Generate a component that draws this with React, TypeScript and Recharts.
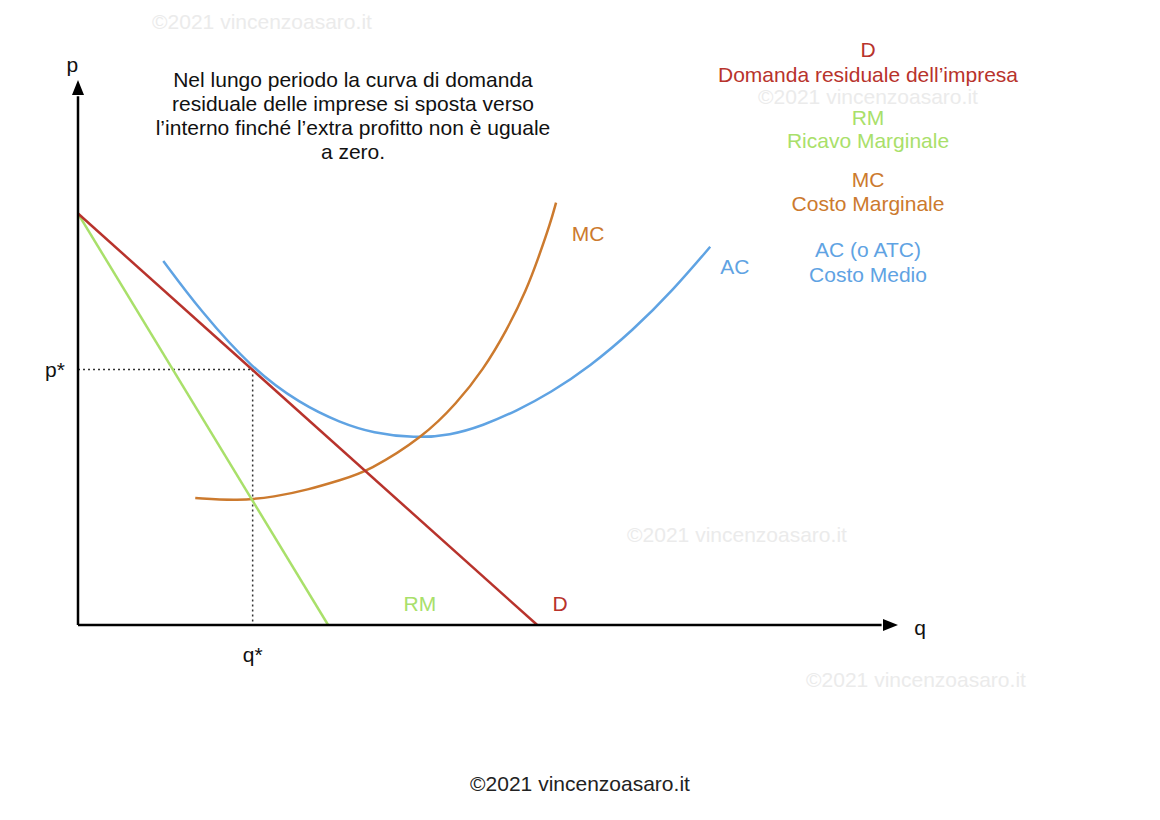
import React from 'react';
import { LineChart, Line, XAxis, YAxis, ReferenceLine, ReferenceDot } from 'recharts';

// curves (q on x, p on y, both 0..100)
const demandPoints = [
  { q: 0, p: 75.5 },
  { q: 56, p: 0 },
];

const marginalRevenuePoints = [
  { q: 0, p: 75.5 },
  { q: 30.5, p: 0 },
];

const marginalCostPoints = [
  { q: 14.3, p: 23.3 },
  { q: 19.5, p: 22.8 },
  { q: 24, p: 23.5 },
  { q: 28, p: 24.8 },
  { q: 32, p: 26.6 },
  { q: 35.4, p: 28.2 },
  { q: 42.1, p: 34.5 },
  { q: 46.2, p: 40.7 },
  { q: 49.4, p: 46.8 },
  { q: 52.3, p: 54.1 },
  { q: 54.7, p: 61.5 },
  { q: 56.2, p: 67.6 },
  { q: 57.6, p: 73.7 },
  { q: 58.3, p: 77.5 },
];

const averageCostPoints = [
  { q: 10.4, p: 66.8 },
  { q: 14.9, p: 57.7 },
  { q: 21.3, p: 46.9 },
  { q: 27.1, p: 40.6 },
  { q: 32, p: 37.1 },
  { q: 36, p: 35.2 },
  { q: 41, p: 34.3 },
  { q: 45.4, p: 34.8 },
  { q: 49.4, p: 36.6 },
  { q: 53.5, p: 39.3 },
  { q: 57.6, p: 42.6 },
  { q: 62.4, p: 47.4 },
  { q: 67.7, p: 54.1 },
  { q: 72.6, p: 61.5 },
  { q: 77.1, p: 69.4 },
];

const equilibrium = { q: 21.3, p: 46.9 };

const curveLabels = [
  { q: 62.2, p: 71.9, text: 'MC', color: '#cc7a2e' },
  { q: 80.1, p: 65.7, text: 'AC', color: '#5fa3e3' },
  { q: 41.7, p: 4.0, text: 'RM', color: '#a9e06a' },
  { q: 58.8, p: 4.0, text: 'D', color: '#b8332c' },
];

const axisLabels = [
  { q: -0.7, p: 102.8, text: 'p' },
  { q: -2.8, p: 46.9, text: 'p*' },
  { q: 102.7, p: -0.5, text: 'q' },
  { q: 21.3, p: -5.5, text: 'q*' },
];

const legendLines = [
  { text: 'D', color: '#b8332c', y: 50 },
  { text: 'Domanda residuale dell’impresa', color: '#b8332c', y: 75 },
  { text: 'RM', color: '#a9e06a', y: 118 },
  { text: 'Ricavo Marginale', color: '#a9e06a', y: 141 },
  { text: 'MC', color: '#cc7a2e', y: 180 },
  { text: 'Costo Marginale', color: '#cc7a2e', y: 204 },
  { text: 'AC (o ATC)', color: '#5fa3e3', y: 250 },
  { text: 'Costo Medio', color: '#5fa3e3', y: 275 },
];

const noteLines = [
  'Nel lungo periodo la curva di domanda',
  'residuale delle imprese si sposta verso',
  'l’interno finché l’extra profitto non è uguale',
  'a zero.',
];

const watermarks = [
  { x: 262, y: 22 },
  { x: 868, y: 97 },
  { x: 737, y: 535 },
  { x: 916, y: 680 },
];

const FONT = '"Liberation Sans", Arial, Helvetica, sans-serif';

const textShape = (text: string, color: string) => (props: any) => (
  <text
    x={props.cx}
    y={props.cy}
    fill={color}
    fontSize={21}
    fontFamily={FONT}
    textAnchor="middle"
    dominantBaseline="central"
  >
    {text}
  </text>
);

const App = () => {
  return (
    <div style={{ position: 'absolute', left: 0, top: 0, width: 1160, height: 820, background: '#fff', fontFamily: FONT }}>
      {watermarks.map((w, i) => (
        <div
          key={`wm-${i}`}
          style={{
            position: 'absolute',
            left: w.x,
            top: w.y,
            transform: 'translate(-50%, -50%)',
            whiteSpace: 'nowrap',
            fontSize: 21,
            color: '#ebebeb',
          }}
        >
          ©2021 vincenzoasaro.it
        </div>
      ))}

      <LineChart width={1160} height={820} margin={{ top: 80, right: 262, bottom: 195, left: 78 }} style={{ position: 'absolute', left: 0, top: 0 }}>
        <XAxis type="number" dataKey="q" domain={[0, 100]} allowDataOverflow hide />
        <YAxis type="number" dataKey="p" domain={[0, 100]} allowDataOverflow hide />

        <ReferenceLine segment={[{ x: 0, y: equilibrium.p }, { x: equilibrium.q, y: equilibrium.p }]} stroke="#333" strokeWidth={1.5} strokeDasharray="2 3" />
        <ReferenceLine segment={[{ x: equilibrium.q, y: equilibrium.p }, { x: equilibrium.q, y: 0 }]} stroke="#333" strokeWidth={1.5} strokeDasharray="2 3" />

        <Line data={averageCostPoints} dataKey="p" type="basis" stroke="#5fa3e3" strokeWidth={2.5} dot={false} activeDot={false} isAnimationActive={false} />
        <Line data={marginalCostPoints} dataKey="p" type="basis" stroke="#cc7a2e" strokeWidth={2.5} dot={false} activeDot={false} isAnimationActive={false} />
        <Line data={marginalRevenuePoints} dataKey="p" type="linear" stroke="#a9e06a" strokeWidth={2.5} dot={false} activeDot={false} isAnimationActive={false} />
        <Line data={demandPoints} dataKey="p" type="linear" stroke="#b8332c" strokeWidth={2.5} dot={false} activeDot={false} isAnimationActive={false} />

        {/* axes with arrowheads */}
        <ReferenceLine segment={[{ x: 0, y: 0 }, { x: 98, y: 0 }]} stroke="#000" strokeWidth={2.5} />
        <ReferenceLine segment={[{ x: 0, y: 0 }, { x: 0, y: 97 }]} stroke="#000" strokeWidth={2.5} />
        <ReferenceDot
          x={100}
          y={0}
          ifOverflow="visible"
          shape={(props: any) => (
            <polygon points={`${props.cx},${props.cy} ${props.cx - 15},${props.cy - 6} ${props.cx - 15},${props.cy + 6}`} fill="#000" />
          )}
        />
        <ReferenceDot
          x={0}
          y={100}
          ifOverflow="visible"
          shape={(props: any) => (
            <polygon points={`${props.cx},${props.cy} ${props.cx - 6},${props.cy + 15} ${props.cx + 6},${props.cy + 15}`} fill="#000" />
          )}
        />

        {curveLabels.map((l) => (
          <ReferenceDot key={l.text} x={l.q} y={l.p} ifOverflow="visible" shape={textShape(l.text, l.color)} />
        ))}
        {axisLabels.map((l) => (
          <ReferenceDot key={l.text} x={l.q} y={l.p} ifOverflow="visible" shape={textShape(l.text, '#111')} />
        ))}
      </LineChart>

      <div style={{ position: 'absolute', left: 353, top: 68, transform: 'translateX(-50%)', textAlign: 'center', fontSize: 21, lineHeight: '24px', color: '#111', whiteSpace: 'nowrap' }}>
        {noteLines.map((t) => (
          <div key={t}>{t}</div>
        ))}
      </div>

      {legendLines.map((l) => (
        <div
          key={l.text}
          style={{
            position: 'absolute',
            left: 868,
            top: l.y,
            transform: 'translate(-50%, -50%)',
            whiteSpace: 'nowrap',
            fontSize: 21,
            color: l.color,
          }}
        >
          {l.text}
        </div>
      ))}

      <div style={{ position: 'absolute', left: 580, top: 784, transform: 'translate(-50%, -50%)', whiteSpace: 'nowrap', fontSize: 21, color: '#222' }}>
        ©2021 vincenzoasaro.it
      </div>
    </div>
  );
};

export default App;
